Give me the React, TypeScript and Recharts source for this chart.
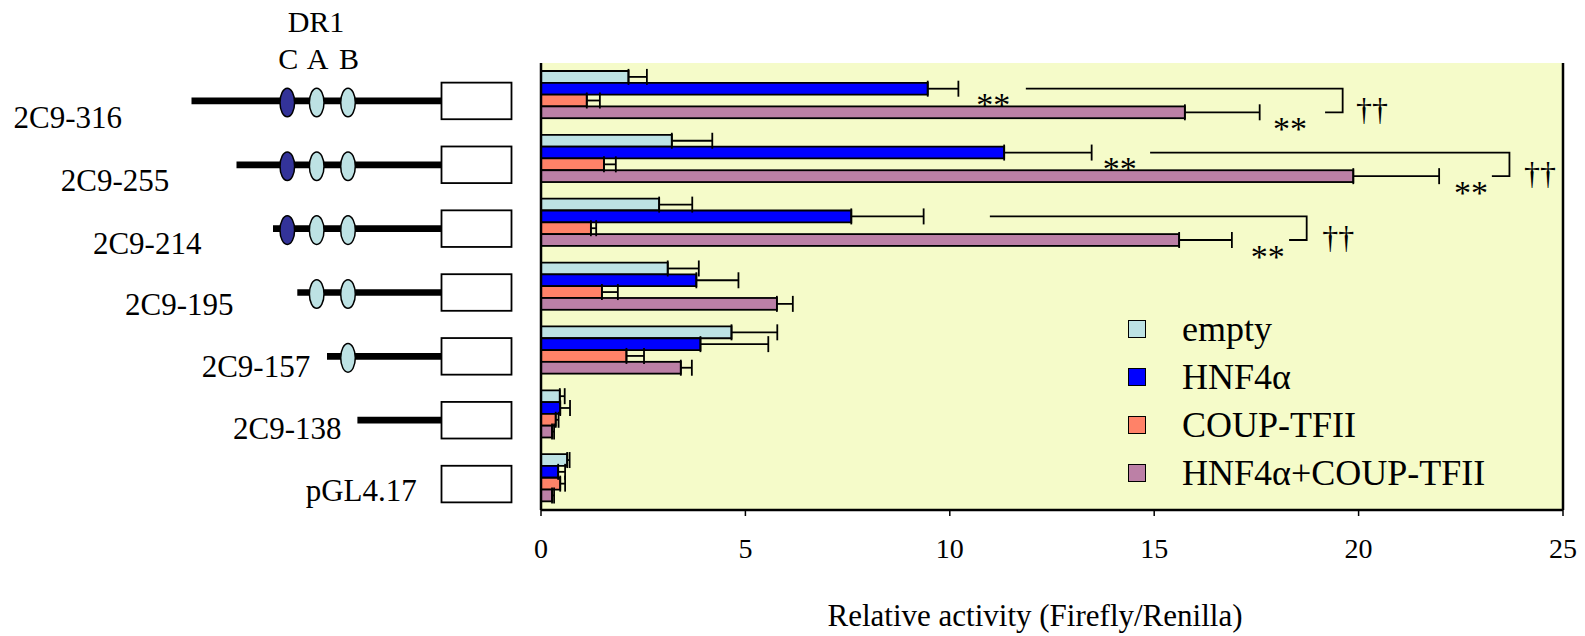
import React from "react";
import {
  BarChart,
  Bar,
  XAxis,
  YAxis,
  CartesianGrid,
  ErrorBar,
  Legend,
  ReferenceLine,
} from "recharts";

const FONT = '"Liberation Serif", "Times New Roman", serif';

// ---------- data ----------
const categories = ["2C9-316", "2C9-255", "2C9-214", "2C9-195", "2C9-157", "2C9-138", "pGL4.17"];
const emptyValues = [2.14, 3.2, 2.89, 3.1, 4.66, 0.46, 0.64];
const emptyErrors = [0.45, 0.99, 0.81, 0.76, 1.12, 0.12, 0.06];
const hnfValues = [9.46, 11.33, 7.59, 3.8, 3.9, 0.47, 0.42];
const hnfErrors = [0.75, 2.14, 1.77, 1.03, 1.66, 0.24, 0.17];
const coupValues = [1.12, 1.54, 1.22, 1.49, 2.09, 0.36, 0.47];
const coupErrors = [0.32, 0.29, 0.13, 0.39, 0.43, 0.07, 0.12];
const comboValues = [15.75, 19.87, 15.61, 5.77, 3.42, 0.27, 0.27];
const comboErrors = [1.83, 2.1, 1.29, 0.39, 0.27, 0.05, 0.05];

const seriesKeys = ["empty", "hnf", "coup", "combo"];
const seriesNames = ["empty", "HNF4α", "COUP-TFII", "HNF4α+COUP-TFII"];
const seriesColors = ["#BDE2E4", "#0000FF", "#FF8268", "#BC80A6"];
const xTicks = [0, 5, 10, 15, 20, 25];

// construct elements (DR1 sites) present in each construct
const constructSites = [["C", "A", "B"], ["C", "A", "B"], ["C", "A", "B"], ["A", "B"], ["B"], [], []];

// significance annotations (data units on x axis)
const bracketFrom = [11.86, 14.9, 10.98, null, null, null, null];
const bracketTo = [19.61, 23.69, 18.73, null, null, null, null];
const bracketTail = [19.18, 23.26, 18.3, null, null, null, null];
const starsHnfAt = [11.06, 14.16, null, null, null, null, null];
const starsComboAt = [18.32, 22.75, 17.78, null, null, null, null];
const daggersAt = [20.33, 24.44, 19.5, null, null, null, null];

const data = categories.map((name, i) => ({
  name,
  empty: emptyValues[i],
  emptyErr: [0, emptyErrors[i]],
  hnf: hnfValues[i],
  hnfErr: [0, hnfErrors[i]],
  coup: coupValues[i],
  coupErr: [0, coupErrors[i]],
  combo: comboValues[i],
  comboErr: [0, comboErrors[i]],
}));

// ---------- layout (styling only) ----------
const labelLeft = [13.5, 60.8, 92.9, 125, 201.7, 233, 305.7];
const labelDy = [33, 32.5, 31, 28, 26.5, 25, 22.5];
const lineStart = [191.5, 236.5, 273, 297.3, 327, 357.4, null];
const siteX: Record<string, number> = { C: 287.3, A: 316.7, B: 348 };
const siteFill: Record<string, string> = { C: "#333399", A: "#BDE2E4", B: "#BDE2E4" };
const BOX_X = 441.5;
const BOX_W = 70;
const BOX_H = 36.6;

const ConstructTick = (props: any) => {
  const { y, payload } = props;
  const i = categories.indexOf(payload.value);
  const cy = y + 6;
  const ls = lineStart[i];
  return (
    <g>
      {i === 0 && (
        <g fontFamily={FONT} fontSize={30} fill="#000">
          <text x={316} y={y - 63} textAnchor="middle">DR1</text>
          {["C", "A", "B"].map((s) => (
            <text key={s} x={siteX[s] + 1} y={y - 26} textAnchor="middle">{s}</text>
          ))}
        </g>
      )}
      <text x={labelLeft[i]} y={y + labelDy[i]} fontFamily={FONT} fontSize={31} fill="#000" textAnchor="start">
        {payload.value}
      </text>
      {ls != null && <line x1={ls} y1={cy} x2={BOX_X} y2={cy} stroke="#000" strokeWidth={6.7} />}
      {constructSites[i].map((s) => (
        <ellipse key={s} cx={siteX[s]} cy={cy + 1.5} rx={7.3} ry={14.3} fill={siteFill[s]} stroke="#000" strokeWidth={1.5} />
      ))}
      <rect x={BOX_X} y={cy - BOX_H / 2} width={BOX_W} height={BOX_H} fill="#fff" stroke="#000" strokeWidth={1.8} />
    </g>
  );
};

const STAR_SIZE = 34;
const DAGGER_SIZE = 32;

const ComboBar = (props: any) => {
  const { x, y, width, height, fill, payload } = props;
  const i = categories.indexOf(payload.name);
  const k = width / comboValues[i];
  const xAt = (v: number) => x + v * k;
  const from = bracketFrom[i];
  let ann: React.ReactNode = null;
  if (from != null) {
    const topY = y - 1.5 * height;
    const botY = y + height / 2;
    const to = bracketTo[i] as number;
    const tail = bracketTail[i] as number;
    const sh = starsHnfAt[i];
    const starDy = 10 + STAR_SIZE * 0.52;
    ann = (
      <g fontFamily={FONT} fill="#000">
        <polyline
          points={`${xAt(from)},${topY} ${xAt(to)},${topY} ${xAt(to)},${botY} ${xAt(tail)},${botY}`}
          fill="none"
          stroke="#000"
          strokeWidth={1.8}
        />
        {sh != null && (
          <text x={xAt(sh)} y={topY + starDy} fontSize={STAR_SIZE} textAnchor="middle">**</text>
        )}
        <text x={xAt(starsComboAt[i] as number)} y={botY + starDy} fontSize={STAR_SIZE} textAnchor="middle">**</text>
        <text x={xAt(daggersAt[i] as number)} y={botY - 1 + DAGGER_SIZE * 0.27} fontSize={DAGGER_SIZE} textAnchor="middle">††</text>
      </g>
    );
  }
  return (
    <g>
      <rect x={x} y={y} width={width} height={height} fill={fill} stroke="#000" strokeWidth={1.8} />
      {ann}
    </g>
  );
};

const LegendContent = () => (
  <div style={{ fontFamily: FONT, fontSize: 36, color: "#000" }}>
    {seriesNames.map((n, i) => (
      <div key={n} style={{ display: "flex", alignItems: "center", height: 48, whiteSpace: "nowrap" }}>
        <span
          style={{
            display: "inline-block",
            width: 18,
            height: 18,
            background: seriesColors[i],
            border: "1.5px solid #000",
            boxSizing: "border-box",
            marginRight: 36,
          }}
        />
        <span>{n}</span>
      </div>
    ))}
  </div>
);

export default function App() {
  return (
    <div style={{ position: "absolute", left: 0, top: 0, background: "#fff" }}>
      <BarChart
        width={1585}
        height={636}
        data={data}
        layout="vertical"
        margin={{ top: 63, right: 22, bottom: 0, left: 0 }}
        barGap={0}
        barSize={11.8}
        style={{ fontFamily: FONT }}
      >
        <CartesianGrid fill="#F5FBC9" horizontal={false} vertical={false} />
        <XAxis
          type="number"
          domain={[0, 25]}
          ticks={xTicks}
          height={126}
          tickSize={6}
          tickMargin={22}
          tickLine={{ stroke: "#000", strokeWidth: 1.5 }}
          axisLine={{ stroke: "#000", strokeWidth: 2.5 }}
          tick={{ fontSize: 28, fill: "#000", fontFamily: FONT }}
          label={{
            value: "Relative activity (Firefly/Renilla)",
            position: "insideBottom",
            offset: 10,
            dx: -17,
            fontSize: 31,
            fill: "#000",
            fontFamily: FONT,
          }}
        />
        <XAxis
          xAxisId="top"
          orientation="top"
          type="number"
          domain={[0, 25]}
          height={0}
          tick={false}
          tickLine={false}
          axisLine={{ stroke: "#808080", strokeWidth: 1.5 }}
        />
        <YAxis
          type="category"
          dataKey="name"
          width={541}
          interval={0}
          tickLine={false}
          axisLine={{ stroke: "#000", strokeWidth: 2.5 }}
          tick={(p: any) => <ConstructTick {...p} />}
        />
        <ReferenceLine x={25} stroke="#000" strokeWidth={2.5} />
        <Legend
          layout="vertical"
          align="center"
          verticalAlign="middle"
          content={() => <LegendContent />}
          wrapperStyle={{ position: "absolute", left: 1128, top: 305, width: "auto", height: "auto" }}
        />
        {seriesKeys.map((key, si) =>
          key === "combo" ? (
            <Bar
              key={key}
              dataKey={key}
              name={seriesNames[si]}
              fill={seriesColors[si]}
              isAnimationActive={false}
              shape={(p: any) => <ComboBar {...p} />}
            >
              <ErrorBar dataKey={key + "Err"} direction="x" width={8} stroke="#000" strokeWidth={1.8} />
            </Bar>
          ) : (
            <Bar
              key={key}
              dataKey={key}
              name={seriesNames[si]}
              fill={seriesColors[si]}
              stroke="#000"
              strokeWidth={1.8}
              isAnimationActive={false}
            >
              <ErrorBar dataKey={key + "Err"} direction="x" width={8} stroke="#000" strokeWidth={1.8} />
            </Bar>
          )
        )}
      </BarChart>
    </div>
  );
}
